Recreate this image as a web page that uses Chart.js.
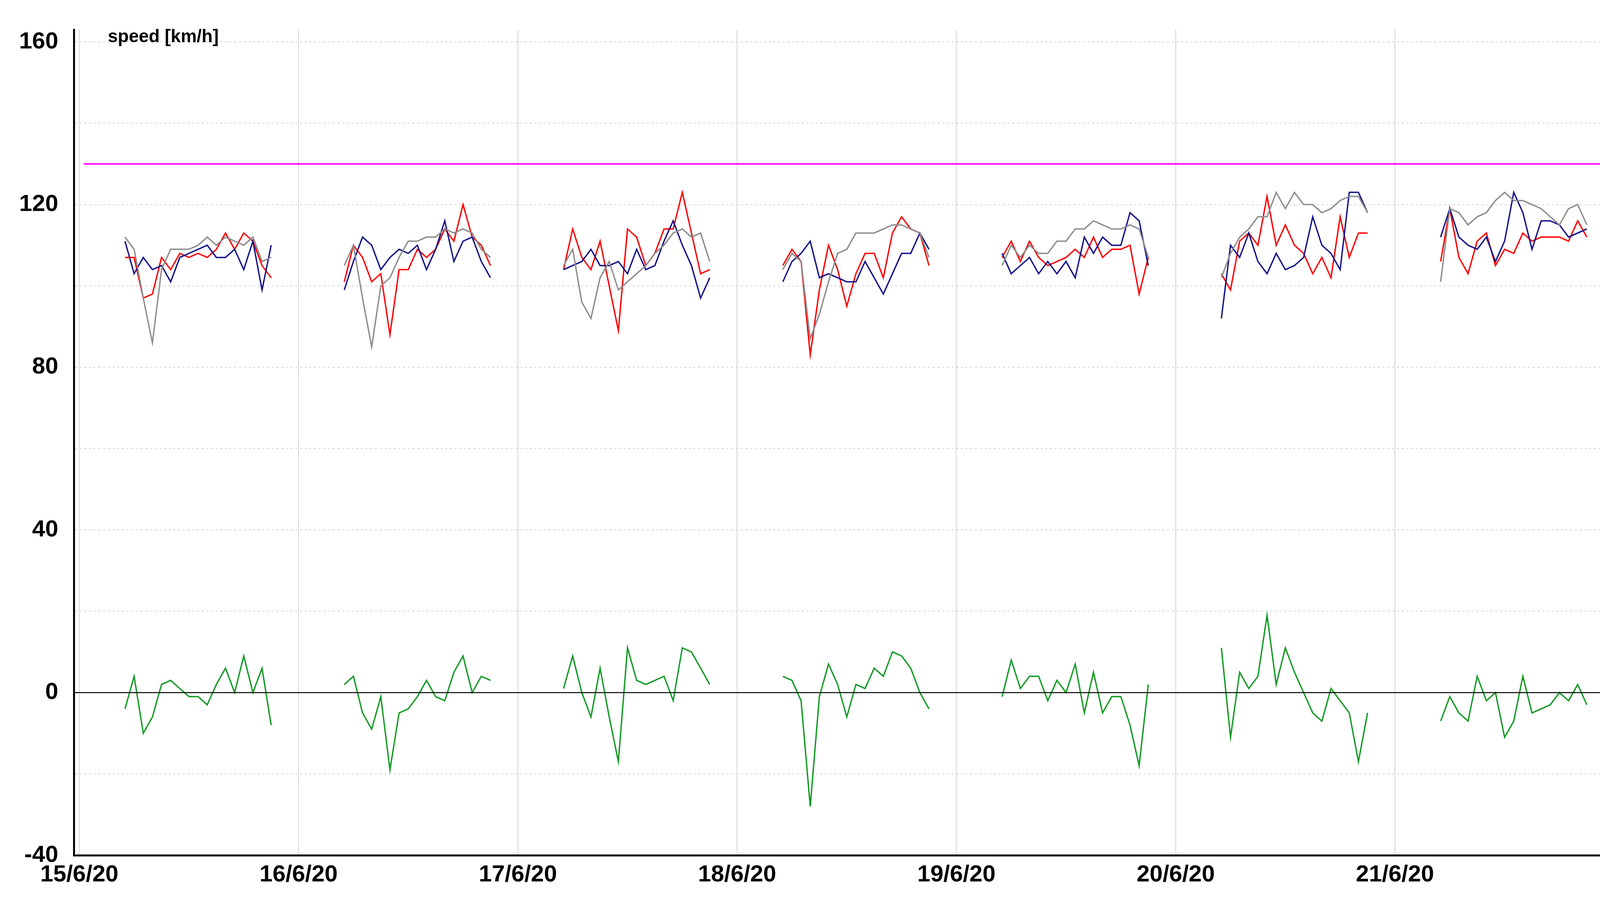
<!DOCTYPE html>
<html>
<head>
<meta charset="utf-8">
<script src="https://cdn.jsdelivr.net/npm/chart.js@4/dist/chart.umd.min.js"></script>
<style>
  html, body { margin: 0; padding: 0; background: #fff; overflow: hidden; }
  #wrap { width: 4168px; height: 2324px; }
  canvas { display: block; }
</style>
</head>
<body>
<div id="wrap"><canvas id="c" width="4110" height="2324" style="width:4110px;height:2324px"></canvas></div>
<script>
// hours of the day at which each sample was taken
const hours = [5,6,7,8,9,10,11,12,13,14,15,16,17,18,19,20,21];
const dayLabels = ['15/6/20','16/6/20','17/6/20','18/6/20','19/6/20','20/6/20','21/6/20'];
const limitSpeed = 130;
const zeroLine = 0;

// one row per day
const graySpeed = [
  [112,109,97,86,104,109,109,109,110,112,110,112,111,110,112,106,107],
  [105,110,97,85,100,102,107,111,111,112,112,114,113,114,113,109,107],
  [105,109,96,92,102,106,99,101,103,105,108,110,113,114,112,113,106],
  [104,108,106,87,93,101,108,109,113,113,113,114,115,115,114,113,107],
  [105,110,107,110,108,108,111,111,114,114,116,115,114,114,115,114,107],
  [102,108,112,114,117,117,123,119,123,120,120,118,119,121,122,122,118],
  [101,119,118,115,117,118,121,123,121,121,120,119,117,115,119,120,115]
];
const redSpeed = [
  [107,107,97,98,107,104,108,107,108,107,109,113,109,113,111,105,102],
  [101,110,107,101,103,88,104,104,109,107,109,114,111,120,112,110,105],
  [104,114,107,104,111,100,89,114,112,105,108,114,114,123,113,103,104],
  [105,109,106,83,99,110,104,95,103,108,108,102,113,117,114,113,105],
  [107,111,106,111,107,105,106,107,109,107,112,107,109,109,110,98,107],
  [103,99,111,113,110,122,110,115,110,108,103,107,102,117,107,113,113],
  [106,119,107,103,111,113,105,109,108,113,111,112,112,112,111,116,112]
];
const blueSpeed = [
  [111,103,107,104,105,101,107,108,109,110,107,107,109,104,111,99,110],
  [99,106,112,110,104,107,109,108,110,104,109,116,106,111,112,106,102],
  [104,105,106,109,105,105,106,103,109,104,105,111,116,110,105,97,102],
  [101,106,108,111,102,103,102,101,101,106,102,98,103,108,108,113,109],
  [108,103,105,107,103,106,103,106,102,112,108,112,110,110,118,116,105],
  [92,110,107,113,106,103,108,104,105,107,117,110,108,104,123,123,118],
  [112,119,112,110,109,112,106,111,123,118,109,116,116,115,112,113,114]
];
const greenDiff = [
  [-4,4,-10,-6,2,3,1,-1,-1,-3,2,6,0,9,0,6,-8],
  [2,4,-5,-9,-1,-19,-5,-4,-1,3,-1,-2,5,9,0,4,3],
  [1,9,0,-6,6,-6,-17,11,3,2,3,4,-2,11,10,6,2],
  [4,3,-2,-28,-1,7,2,-6,2,1,6,4,10,9,6,0,-4],
  [-1,8,1,4,4,-2,3,0,7,-5,5,-5,-1,-1,-8,-18,2],
  [11,-11,5,1,4,19,2,11,5,0,-5,-7,1,-2,-5,-17,-5],
  [-7,-1,-5,-7,4,-2,0,-11,-7,4,-5,-4,-3,0,-2,2,-3]
];

function toPoints(rows) {
  const pts = [];
  rows.forEach((row, d) => {
    row.forEach((v, i) => pts.push({ x: d + hours[i] / 24, y: v }));
    pts.push({ x: d + 0.95, y: null });
  });
  return pts;
}

function line(data, color, w) {
  return { data: data, borderColor: color, borderWidth: w, pointRadius: 0,
           tension: 0, spanGaps: false, fill: false };
}

const FONT = "'Liberation Sans Narrow', 'Liberation Sans', Arial, sans-serif";

const titlePlugin = {
  id: 'titleText',
  afterDraw(chart) {
    const ctx = chart.ctx;
    ctx.save();
    ctx.font = 'bold 46px ' + FONT;
    ctx.fillStyle = '#000';
    ctx.textBaseline = 'middle';
    ctx.fillText('speed [km/h]', 276, 95);
    ctx.restore();
  }
};

new Chart(document.getElementById('c'), {
  type: 'line',
  data: {
    datasets: [
      line([{ x: -0.025, y: zeroLine }, { x: 6.96, y: zeroLine }], '#000', 2.5),
      line([{ x: 0.02, y: limitSpeed }, { x: 6.95, y: limitSpeed }], '#ff00ff', 4),
      line(toPoints(graySpeed), '#8c8c8c', 3.5),
      line(toPoints(blueSpeed), '#12128a', 3.5),
      line(toPoints(redSpeed), '#ff0000', 3.5),
      line(toPoints(greenDiff), '#129a24', 3.5)
    ]
  },
  options: {
    responsive: false,
    devicePixelRatio: 1,
    animation: false,
    layout: { padding: { top: 60, right: 0, left: 0, bottom: 30 } },
    plugins: { legend: { display: false }, tooltip: { enabled: false } },
    scales: {
      x: {
        type: 'linear', min: -0.025, max: 6.96,
        afterBuildTicks(ax) { ax.ticks = dayLabels.map((_, i) => ({ value: i })); },
        afterFit(ax) { ax.height = 105; },
        ticks: {
          callback: (v) => dayLabels[v] || '',
          font: { family: FONT, size: 60, weight: 'bold' }, color: '#000',
          maxRotation: 0, autoSkip: false, padding: 14
        },
        grid: { color: '#d4d4d4', lineWidth: 2, drawTicks: false },
        border: { color: '#000', width: 5 }
      },
      y: {
        min: -40, max: 163,
        afterBuildTicks(ax) {
          const t = [];
          for (let v = -40; v <= 160; v += 20) t.push({ value: v });
          ax.ticks = t;
        },
        afterFit(ax) { ax.width = 189; },
        ticks: {
          callback: (v) => (v % 40 === 0 ? v : ''),
          font: { family: FONT, size: 60, weight: 'bold' }, color: '#000', padding: 40
        },
        grid: { color: '#d0d0d0', lineWidth: 2, drawTicks: false },
        border: { color: '#000', width: 5, dash: [5, 7] }
      }
    }
  },
  plugins: [titlePlugin]
});
</script>
</body>
</html>
